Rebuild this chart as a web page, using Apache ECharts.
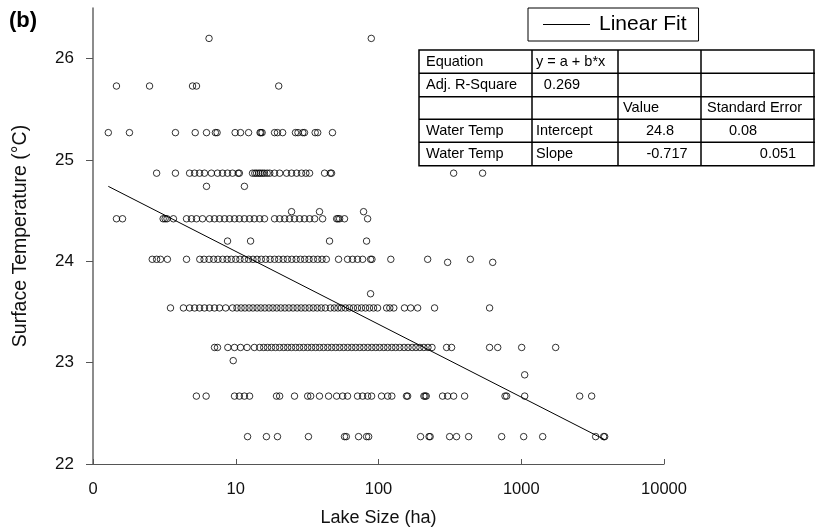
<!DOCTYPE html>
<html><head><meta charset="utf-8">
<script src="https://cdn.jsdelivr.net/npm/echarts@6/dist/echarts.min.js"></script>
<style>html,body{margin:0;padding:0;background:#fff}#c{width:815px;height:532px}</style>
</head><body><div id="c"></div>
<script>
// ---- data: lake size (ha) per surface-temperature level (°C) ----
const lakes_26_20 = [6.5, 89];
const lakes_25_73 = [1.46, 2.49, 4.98, 5.31, 20];
const lakes_25_27 = [1.28, 1.8, 3.78, 5.2, 6.24, 7.2, 7.4, 9.9, 10.8, 12.3, 14.8, 15.0, 15.3, 18.7, 19.6, 21.3, 26.2, 27.3, 29.5, 30.3, 36, 37.5, 47.6];
const lakes_24_87 = [2.79, 3.78, 4.75, 5.15, 5.58, 6.04, 6.75, 7.45, 8.08, 8.76, 9.49, 10.4, 10.6, 13.1, 13.6, 14.0, 14.5, 14.9, 15.4, 15.9, 16.6, 17.3, 18.7, 20.3, 22.7, 24.6, 26.7, 28.9, 31.0, 32.9, 41.9, 46, 46.9, 336, 536];
const lakes_24_74 = [6.24, 11.5];
const lakes_24_49 = [24.6, 38.6, 78.6];
const lakes_24_42 = [1.46, 1.61, 3.1, 3.2, 3.3, 3.66, 4.52, 4.9, 5.31, 5.85, 6.55, 7.1, 7.7, 8.35, 9.05, 9.81, 10.6, 11.5, 12.5, 13.5, 14.7, 15.9, 18.7, 20.3, 22.0, 23.8, 25.8, 28.0, 30.3, 32.9, 35.7, 40.6, 50.9, 52, 53.4, 57.8, 83.9];
const lakes_24_20 = [8.76, 12.7, 45.4, 82.5];
const lakes_24_02 = [2.6, 2.79, 2.97, 3.32, 4.52, 5.6, 6.0, 6.5, 7.0, 7.5, 8.1, 8.7, 9.3, 10.0, 10.7, 11.5, 12.3, 13.2, 14.1, 15.1, 16.2, 17.4, 18.7, 20.0, 21.5, 23.0, 24.7, 26.5, 28.4, 30.4, 32.6, 35.0, 37.5, 40.2, 43.1, 52.5, 60.7, 65.8, 71.3, 77.4, 88, 90, 122, 221, 440];
const lakes_23_99 = [305, 631];
const lakes_23_68 = [88];
const lakes_23_54 = [3.49, 4.3, 4.75, 5.15, 5.58, 6.04, 6.55, 7.1, 7.7, 8.5, 9.5, 10.2, 10.9, 11.6, 12.4, 13.2, 14.1, 15.0, 16.0, 17.1, 18.2, 19.4, 20.7, 22.1, 23.6, 25.2, 26.9, 28.7, 30.6, 32.7, 34.9, 37.2, 39.7, 42.4, 46, 49, 52, 55, 58.6, 62.5, 66.7, 71.2, 76.0, 81.1, 86.5, 92.3, 98.5, 114, 120, 128, 152, 168, 188, 247, 600];
const lakes_23_15 = [7.1, 7.45, 8.8, 9.8, 10.8, 12.0, 13.5, 14.7, 15.7, 16.7, 17.8, 19.0, 20.3, 21.7, 23.1, 24.6, 26.3, 28.0, 29.9, 31.9, 34.0, 36.3, 38.7, 41.3, 44.1, 47.0, 50.2, 53.5, 57.1, 60.9, 65.0, 69.3, 74.0, 78.9, 84.2, 89.8, 95.8, 102, 109, 116, 124, 132, 141, 151, 161, 172, 183, 195, 208, 222, 237, 300, 325, 600, 684, 1007, 1742];
const lakes_23_02 = [9.6];
const lakes_22_88 = [1057];
const lakes_22_67 = [5.3, 6.2, 9.8, 10.6, 11.5, 12.5, 19.3, 20.3, 25.8, 31.9, 33.5, 38.6, 44.7, 50.9, 56.1, 60.7, 71.3, 77.4, 83.9, 89.5, 105, 116, 124, 157, 160, 208, 212, 216, 281, 305, 336, 401, 770, 790, 1057, 2566, 3113];
const lakes_22_27 = [12.1, 16.4, 19.6, 32.3, 57.8, 59.5, 72.5, 82.5, 85.3, 197, 226, 230, 315, 352, 428, 729, 1040, 1413, 3321, 3777, 3840];

const tempLevels = [26.20, 25.73, 25.27, 24.87, 24.74, 24.49, 24.42, 24.20, 24.02, 23.99, 23.68, 23.54, 23.15, 23.02, 22.88, 22.67, 22.27];
const lakesByLevel = [lakes_26_20, lakes_25_73, lakes_25_27, lakes_24_87, lakes_24_74, lakes_24_49, lakes_24_42, lakes_24_20, lakes_24_02, lakes_23_99, lakes_23_68, lakes_23_54, lakes_23_15, lakes_23_02, lakes_22_88, lakes_22_67, lakes_22_27];

// linear fit line endpoints
const fitX = [1.28, 3840];
const fitY = [24.74, 22.24];

const yTicks = [22, 23, 24, 25, 26];
const xTicks = [1, 10, 100, 1000, 10000];
const xTickLabels = ['0', '10', '100', '1000', '10000'];

const tableRows = [
  ['Equation', 'y = a + b*x', '', ''],
  ['Adj. R-Square', '0.269', '', ''],
  ['', '', 'Value', 'Standard Error'],
  ['Water Temp', 'Intercept', '24.8', '0.08'],
  ['Water Temp', 'Slope', '-0.717', '0.051']
];

// ---- build ----
const scatterData = [];
tempLevels.forEach((t, i) => lakesByLevel[i].forEach(s => scatterData.push([s, t])));
const fitData = fitX.map((x, i) => [x, fitY[i]]);

const FONT = 'Liberation Sans, Arial, sans-serif';

// table layout
const colX = [419, 532, 618, 701, 815];
const rowY = [50, 73.3, 96.7, 119.3, 142.3, 165.7];
const cellPos = [
  [[426, 'left'], [536, 'left'], null, null],
  [[426, 'left'], [562, 'center'], null, null],
  [null, null, [623, 'left'], [707, 'left']],
  [[426, 'left'], [536, 'left'], [660, 'center'], [743, 'center']],
  [[426, 'left'], [536, 'left'], [667, 'center'], [778, 'center']]
];
const graphics = [];
graphics.push({type: 'rect', shape: {x: colX[0], y: rowY[0], width: colX[4] - colX[0] - 1, height: rowY[5] - rowY[0]},
  style: {fill: '#fff', stroke: '#000', lineWidth: 1.5}, z: 10});
for (let r = 1; r < rowY.length - 1; r++) {
  graphics.push({type: 'line', shape: {x1: colX[0], y1: rowY[r], x2: colX[4], y2: rowY[r]}, style: {stroke: '#000', lineWidth: 1.5}, z: 11});
}
for (let c = 1; c < colX.length - 1; c++) {
  graphics.push({type: 'line', shape: {x1: colX[c], y1: rowY[0], x2: colX[c], y2: rowY[5]}, style: {stroke: '#000', lineWidth: 1.5}, z: 11});
}
tableRows.forEach((row, r) => row.forEach((txt, c) => {
  if (!txt) return;
  const p = cellPos[r][c];
  graphics.push({type: 'text', x: p[0], y: (rowY[r] + rowY[r + 1]) / 2, z: 12,
    style: {text: txt, fill: '#000', font: '14.5px ' + FONT, textAlign: p[1], textVerticalAlign: 'middle'}});
}));

const chart = echarts.init(document.getElementById('c'), null, {renderer: 'canvas'});
chart.setOption({
  animation: false,
  backgroundColor: '#fff',
  textStyle: {fontFamily: FONT},
  title: {text: '(b)', left: 4, top: 5, textStyle: {fontSize: 22, fontWeight: 'bold', color: '#000', fontFamily: FONT}},
  legend: {
    data: [{name: 'Linear Fit', icon: 'rect'}], left: 528, top: 8, orient: 'horizontal',
    borderColor: '#000', borderWidth: 1, padding: [6, 12, 6, 15],
    itemWidth: 47, itemHeight: 1,
    itemStyle: {color: '#000'},
    textStyle: {fontSize: 21, color: '#000', fontFamily: FONT, padding: [0, 10, 0, 4]}
  },
  grid: {left: 93, right: 151, top: 8, bottom: 67, containLabel: false},
  xAxis: {
    type: 'log', logBase: 10, min: 1, max: 10000,
    name: 'Lake Size (ha)', nameLocation: 'middle', nameGap: 45,
    nameTextStyle: {fontSize: 18, color: '#111', fontFamily: FONT},
    axisLine: {show: true, lineStyle: {color: '#555', width: 1.2}},
    axisTick: {show: true, inside: true, length: 5, lineStyle: {color: '#555'}},
    axisLabel: {margin: 17, fontSize: 16.5, color: '#111', fontFamily: FONT,
      formatter: v => { const i = xTicks.indexOf(Math.round(v)); return i >= 0 ? xTickLabels[i] : ''; }},
    splitLine: {show: false}
  },
  yAxis: {
    type: 'value', min: 22, max: 26.5, interval: 1,
    name: 'Surface Temperature (°C)', nameLocation: 'middle', nameGap: 62,
    nameTextStyle: {fontSize: 19.5, color: '#111', fontFamily: FONT},
    axisLine: {show: true, lineStyle: {color: '#666', width: 1.5}},
    axisTick: {show: true, inside: false, length: 7, lineStyle: {color: '#555'}, customValues: yTicks},
    axisLabel: {margin: 19, fontSize: 17, color: '#111', fontFamily: FONT, customValues: yTicks,
      formatter: v => (yTicks.indexOf(v) >= 0 ? String(v) : '')},
    splitLine: {show: false}
  },
  series: [
    {type: 'scatter', name: 'Water Temp', data: scatterData, symbol: 'circle', symbolSize: 6.5,
      itemStyle: {color: 'rgba(0,0,0,0)', borderColor: '#000', borderWidth: 1}, silent: true, z: 2},
    {type: 'line', name: 'Linear Fit', data: fitData, symbol: 'none', showSymbol: false,
      lineStyle: {color: '#000', width: 1}, itemStyle: {color: '#000'}, z: 3, silent: true}
  ],
  graphic: graphics
});
</script></body></html>
